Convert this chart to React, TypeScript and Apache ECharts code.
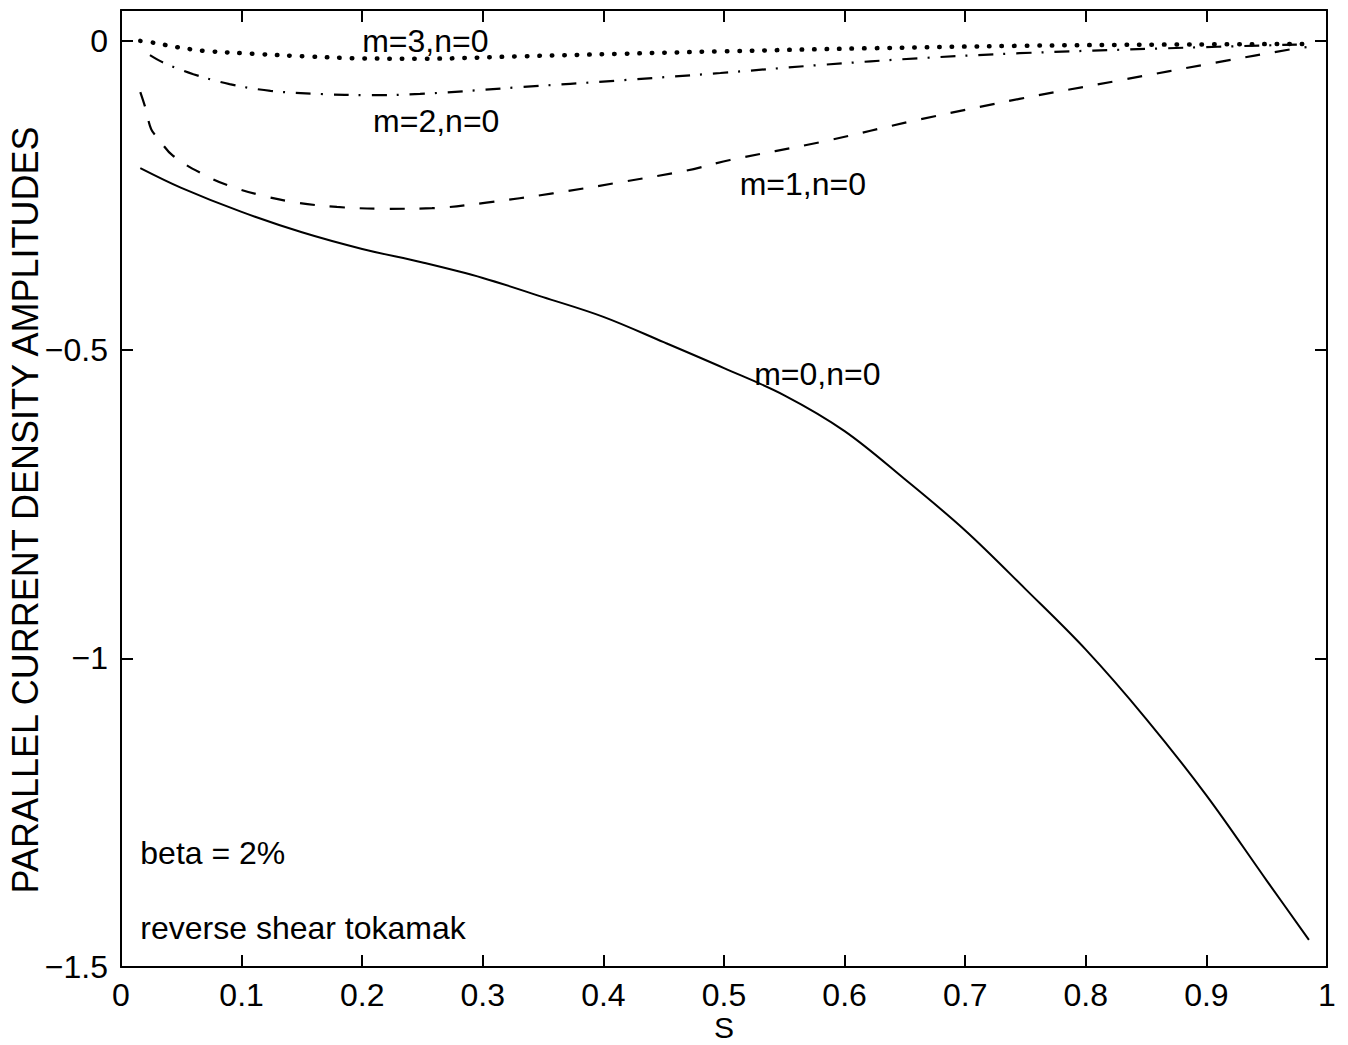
import React, { useEffect, useRef } from "react";
import * as echarts from "echarts";

// ---- Data ----
const S_M0 = [0.016, 0.05, 0.1, 0.15, 0.2, 0.25, 0.3, 0.35, 0.4, 0.45, 0.5, 0.55, 0.6, 0.65, 0.7, 0.75, 0.8, 0.85, 0.9, 0.95, 0.985];
const V_M0 = [-0.206, -0.238, -0.277, -0.31, -0.337, -0.359, -0.384, -0.415, -0.447, -0.488, -0.53, -0.574, -0.632, -0.71, -0.793, -0.888, -0.986, -1.098, -1.222, -1.36, -1.456];

const S_M1 = [0.016, 0.02, 0.025, 0.03, 0.043, 0.068, 0.09, 0.118, 0.146, 0.179, 0.22, 0.258, 0.303, 0.358, 0.414, 0.469, 0.505, 0.58, 0.663, 0.745, 0.828, 0.911, 0.969, 0.983];
const V_M1 = [-0.083, -0.107, -0.143, -0.156, -0.186, -0.216, -0.235, -0.251, -0.262, -0.269, -0.272, -0.271, -0.262, -0.247, -0.229, -0.21, -0.193, -0.164, -0.127, -0.094, -0.064, -0.034, -0.014, -0.01];

const S_M2 = [0.024, 0.035, 0.06, 0.09, 0.124, 0.165, 0.206, 0.248, 0.331, 0.414, 0.497, 0.58, 0.663, 0.745, 0.867, 0.975];
const V_M2 = [-0.023, -0.035, -0.054, -0.07, -0.081, -0.086, -0.088, -0.086, -0.075, -0.064, -0.052, -0.039, -0.028, -0.02, -0.012, -0.006];

const S_M3 = [0.016, 0.027, 0.046, 0.068, 0.11, 0.151, 0.192, 0.248, 0.331, 0.414, 0.497, 0.62, 0.745, 0.87, 0.983];
const V_M3 = [0.0, -0.003, -0.01, -0.016, -0.021, -0.025, -0.028, -0.029, -0.025, -0.021, -0.017, -0.012, -0.008, -0.006, -0.005];

const Y_TICKS = [-1.5, -1, -0.5, 0];
const X_MIN = 0;
const X_MAX = 1;
const X_STEP = 0.1;
const Y_MIN = -1.5;
const Y_MAX = 0.05;

const X_TITLE = "S";
const Y_TITLE = "PARALLEL CURRENT DENSITY AMPLITUDES";
const LABELS = [
  { text: "m=3,n=0", x: 0.2, y: 0.0 },
  { text: "m=2,n=0", x: 0.209, y: -0.13 },
  { text: "m=1,n=0", x: 0.513, y: -0.232 },
  { text: "m=0,n=0", x: 0.525, y: -0.54 },
  { text: "beta = 2%", x: 0.016, y: -1.315 },
  { text: "reverse shear tokamak", x: 0.016, y: -1.437 },
];

const FONT = '"Liberation Sans", Arial, Helvetica, sans-serif';

const zip = (xs: number[], ys: number[]) => xs.map((x, i) => [x, ys[i]]);

export default function App() {
  const ref = useRef<HTMLDivElement>(null);

  useEffect(() => {
    if (!ref.current) return;
    const chart = echarts.init(ref.current, null, { renderer: "svg" });

    const axisLine = { show: true, onZero: false, lineStyle: { color: "#000", width: 2 } };
    const tick = { show: true, inside: true, length: 12, lineStyle: { color: "#000", width: 2 } };

    const fmtY = (v: number) => (v === 0 ? "0" : String(v).replace("-", "\u2212"));
    const fmtX = (v: number) => String(Math.round(v * 10) / 10);

    const option: any = {
      animation: false,
      backgroundColor: "#fff",
      grid: { left: 121, right: 21, top: 10, bottom: 78, containLabel: false, outerBoundsMode: "none" },
      xAxis: [
        {
          type: "value",
          min: X_MIN,
          max: X_MAX,
          interval: X_STEP,
          position: "bottom",
          axisLine,
          axisTick: tick,
          splitLine: { show: false },
          axisLabel: { color: "#000", fontSize: 32, lineHeight: 28, fontFamily: FONT, margin: 14, formatter: fmtX },
        },
        {
          type: "value",
          min: X_MIN,
          max: X_MAX,
          interval: X_STEP,
          position: "top",
          axisLine,
          axisTick: tick,
          splitLine: { show: false },
          axisLabel: { show: false },
        },
      ],
      yAxis: [
        {
          type: "value",
          min: Y_MIN,
          max: Y_MAX,
          position: "left",
          axisLine,
          axisTick: { ...tick, customValues: Y_TICKS },
          splitLine: { show: false },
          axisLabel: { color: "#000", fontSize: 32, fontFamily: FONT, margin: 13, customValues: Y_TICKS, formatter: fmtY },
        },
        {
          type: "value",
          min: Y_MIN,
          max: Y_MAX,
          position: "right",
          axisLine,
          axisTick: { ...tick, customValues: Y_TICKS },
          splitLine: { show: false },
          axisLabel: { show: false },
        },
      ],
      series: [
        {
          name: "m=0,n=0",
          type: "line",
          data: zip(S_M0, V_M0),
          showSymbol: false,
          smooth: 0.35,
          lineStyle: { color: "#000", width: 2, type: "solid" },
        },
        {
          name: "m=1,n=0",
          type: "line",
          data: zip(S_M1, V_M1),
          showSymbol: false,
          smooth: 0.35,
          lineStyle: { color: "#000", width: 2.2, type: [15, 15] },
        },
        {
          name: "m=2,n=0",
          type: "line",
          data: zip(S_M2, V_M2),
          showSymbol: false,
          smooth: 0.35,
          lineStyle: { color: "#000", width: 2.2, type: [15, 10, 2, 11] },
        },
        {
          name: "m=3,n=0",
          type: "line",
          data: zip(S_M3, V_M3),
          showSymbol: false,
          smooth: 0.35,
          lineStyle: { color: "#000", width: 4.5, type: [0.5, 12], cap: "round" },
        },
      ],
      graphic: [],
    };

    chart.setOption(option);

    const texts: any[] = LABELS.map((l) => {
      const p = chart.convertToPixel({ gridIndex: 0 }, [l.x, l.y]);
      return {
        type: "text",
        x: p[0],
        y: p[1],
        silent: true,
        style: { text: l.text, fill: "#000", font: `32px ${FONT}`, align: "left", verticalAlign: "middle" },
      };
    });
    const xMid = chart.convertToPixel({ gridIndex: 0 }, [(X_MIN + X_MAX) / 2, Y_MIN]);
    texts.push({
      type: "text",
      x: xMid[0],
      y: 1027,
      silent: true,
      style: { text: X_TITLE, fill: "#000", font: `30px ${FONT}`, lineHeight: 30, align: "center", verticalAlign: "middle" },
    });
    texts.push({
      type: "text",
      x: 25,
      y: 510,
      rotation: Math.PI / 2,
      silent: true,
      style: { text: Y_TITLE, fill: "#000", font: `36px ${FONT}`, align: "center", verticalAlign: "middle" },
    });
    chart.setOption({ graphic: texts });

    return () => chart.dispose();
  }, []);

  return (
    <div
      ref={ref}
      style={{ position: "absolute", left: 0, top: 0, width: 1348, height: 1045, background: "#fff" }}
    />
  );
}
